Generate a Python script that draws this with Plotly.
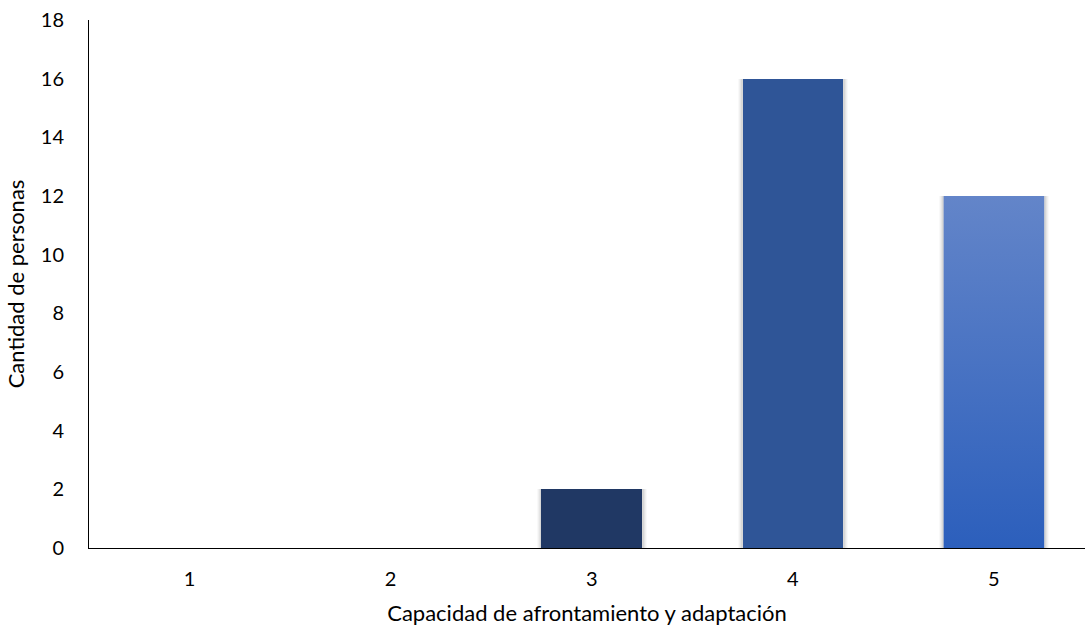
import plotly.graph_objects as go

# Data
categories = [1, 2, 3, 4, 5]
personas = [0, 0, 2, 16, 12]
bar_colors = ["#203864", "#203864", "#203864", "#2f5597", "#4a78cc"]
y_ticks = [0, 2, 4, 6, 8, 10, 12, 14, 16, 18]

BAR_W = 0.5
FONT = "Lato, Carlito, Calibri, sans-serif"

fig = go.Figure()

# soft drop shadow around each bar (stacked translucent layers)
for w, a in [(0.545, 0.025), (0.535, 0.035), (0.525, 0.045), (0.515, 0.06)]:
    fig.add_trace(go.Bar(
        x=categories, y=personas, width=w,
        marker=dict(color=f"rgba(0,0,0,{a})", line=dict(width=0)),
        hoverinfo="skip", showlegend=False))

fig.add_trace(go.Bar(
    x=categories, y=personas, width=BAR_W,
    marker=dict(color=bar_colors, line=dict(width=0)),
    showlegend=False))

# vertical gradient fill on the last bar
c, v = categories[-1], personas[-1]
fig.add_trace(go.Scatter(
    x=[c - BAR_W / 2, c + BAR_W / 2, c + BAR_W / 2, c - BAR_W / 2, c - BAR_W / 2],
    y=[0, 0, v, v, 0],
    mode="lines", line=dict(width=0), fill="toself",
    fillgradient=dict(type="vertical",
                      colorscale=[[0, "#2c5fbc"], [1, "#6385c9"]]),
    hoverinfo="skip", showlegend=False))

fig.update_layout(
    width=1085, height=631,
    margin=dict(l=89, r=0, t=20, b=83),
    plot_bgcolor="white", paper_bgcolor="white",
    barmode="overlay", bargap=0,
    font=dict(family=FONT, size=20, color="#000000"),
    xaxis=dict(
        range=[0.5, 5.453], tickvals=categories,
        ticktext=[str(c) for c in categories],
        showgrid=False, zeroline=False,
        showline=True, linecolor="#000000", linewidth=1,
        ticks="", ticklabelstandoff=13,
        tickfont=dict(size=20),
        title=dict(text="Capacidad de afrontamiento y adaptación",
                   font=dict(size=22), standoff=16),
    ),
    yaxis=dict(
        range=[0, 18], tickvals=y_ticks,
        showgrid=False, zeroline=False,
        showline=True, linecolor="#000000", linewidth=1,
        ticks="", ticklabelstandoff=20,
        tickfont=dict(size=20),
        title=dict(text="Cantidad de personas", font=dict(size=22), standoff=10),
    ),
)

fig.write_html("out.html")
